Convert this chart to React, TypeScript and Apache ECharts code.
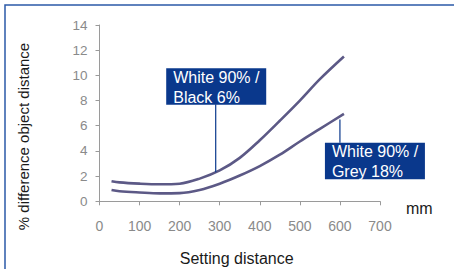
import React, { useEffect, useRef } from "react";
import * as echarts from "echarts";

const settingDistance = [30, 50, 100, 150, 200, 250, 300, 350, 400, 450, 500, 550, 610];
const black6 = [1.6, 1.5, 1.4, 1.35, 1.4, 1.8, 2.45, 3.45, 4.85, 6.4, 8.0, 9.7, 11.5];
const grey18 = [0.9, 0.8, 0.7, 0.63, 0.65, 0.9, 1.4, 2.05, 2.8, 3.7, 4.75, 5.75, 6.95];
const xTicks = [0, 100, 200, 300, 400, 500, 600, 700];
const yTicks = [0, 2, 4, 6, 8, 10, 12, 14];
const label1 = ["White 90% /", "Black 6%"];
const label2 = ["White 90% /", "Grey 18%"];
const anchor1 = [290, 2.3];
const anchor2 = [600, 6.5];

const FONT = "'Liberation Sans', Arial, sans-serif";
const BOX = "#0a388c";
const LINE = "#5c5986";

export default function App() {
  const ref = useRef<HTMLDivElement>(null);
  useEffect(() => {
    if (!ref.current) return;
    const chart = echarts.init(ref.current, undefined, { renderer: "svg" });
    const mk = (ys: number[]) => settingDistance.map((x, i) => [x, ys[i]]);
    chart.setOption({
      animation: false,
      grid: { left: 99.5, right: 74, top: 25, bottom: 67.7 },
      xAxis: {
        type: "value",
        min: xTicks[0],
        max: xTicks[xTicks.length - 1],
        interval: 100,
        axisLine: { lineStyle: { color: "#9a9a9a", width: 1 } },
        axisTick: { show: true, length: 4, lineStyle: { color: "#9a9a9a" } },
        axisLabel: { color: "#8a8a8a", fontSize: 14, fontFamily: FONT, margin: 18 },
        splitLine: { show: false },
      },
      yAxis: {
        type: "value",
        min: yTicks[0],
        max: yTicks[yTicks.length - 1],
        interval: 2,
        axisLine: { show: true, lineStyle: { color: "#9a9a9a", width: 1 } },
        axisTick: { show: true, length: 4, lineStyle: { color: "#9a9a9a" } },
        axisLabel: { color: "#8a8a8a", fontSize: 13.5, fontFamily: FONT, margin: 12 },
        splitLine: { show: false },
      },
      series: [
        {
          type: "line",
          name: "White 90% / Black 6%",
          data: mk(black6),
          smooth: 0.35,
          showSymbol: false,
          lineStyle: { color: LINE, width: 2.6 },
        },
        {
          type: "line",
          name: "White 90% / Grey 18%",
          data: mk(grey18),
          smooth: 0.35,
          showSymbol: false,
          lineStyle: { color: LINE, width: 2.6 },
        },
      ],
    });
    const p1 = chart.convertToPixel({ gridIndex: 0 }, anchor1) as number[];
    const p2 = chart.convertToPixel({ gridIndex: 0 }, anchor2) as number[];
    const box = (x: number, y: number, lines: string[]) => [
      { type: "rect", shape: { x, y, width: 100, height: 36.5 }, style: { fill: BOX }, z: 10 },
      {
        type: "text",
        x: x + 7,
        y: y - 1,
        z: 11,
        style: {
          text: lines.join("\n"),
          fill: "#ffffff",
          font: `16px ${FONT}`,
          lineHeight: 20,
          verticalAlign: "top",
          align: "left",
        },
      },
    ];
    const b1x = p1[0] - 49.5;
    const b1y = 68.3;
    const b2x = p2[0] - 15;
    const b2y = 142.7;
    chart.setOption({
      graphic: [
        {
          type: "rect",
          shape: { x: 5, y: 5, width: 500, height: 300 },
          style: { fill: "none", stroke: "#2b5aa8", lineWidth: 1.5 },
          silent: true,
        },
        { type: "line", shape: { x1: p1[0], y1: b1y + 36, x2: p1[0], y2: p1[1] }, style: { stroke: BOX, lineWidth: 1.2 }, z: 9 },
        { type: "line", shape: { x1: p2[0], y1: p2[1], x2: p2[0], y2: b2y }, style: { stroke: BOX, lineWidth: 1.2 }, z: 9 },
        ...box(b1x, b1y, label1),
        ...box(b2x, b2y, label2),
        {
          type: "text",
          x: 23,
          y: 136.5,
          rotation: Math.PI / 2,
          style: {
            text: "% difference object distance",
            fill: "#1a1a1a",
            font: `15px ${FONT}`,
            align: "center",
            verticalAlign: "middle",
          },
        },
        {
          type: "text",
          x: 236.7,
          y: 258.7,
          style: {
            text: "Setting distance",
            fill: "#1a1a1a",
            font: `16px ${FONT}`,
            align: "center",
            verticalAlign: "middle",
          },
        },
        {
          type: "text",
          x: 406,
          y: 208,
          style: {
            text: "mm",
            fill: "#1a1a1a",
            font: `16px ${FONT}`,
            align: "left",
            verticalAlign: "middle",
          },
        },
      ],
    });
    return () => chart.dispose();
  }, []);
  return (
    <div
      ref={ref}
      style={{ position: "absolute", left: 0, top: 0, width: 454, height: 269, background: "#ffffff" }}
    />
  );
}
